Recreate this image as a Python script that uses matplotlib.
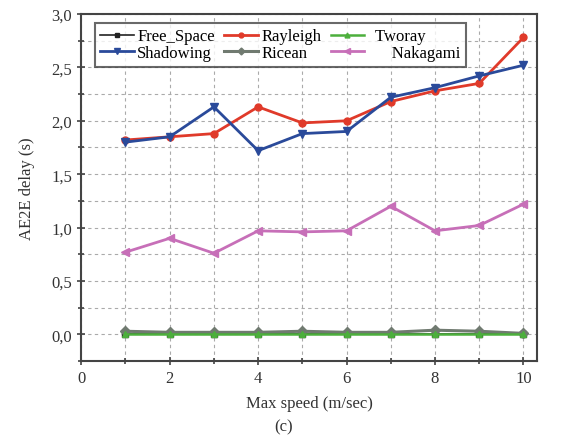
import matplotlib
matplotlib.use("Agg")
import matplotlib.pyplot as plt
from matplotlib.ticker import MultipleLocator, FuncFormatter

plt.rcParams['font.family'] = ['Liberation Serif', 'DejaVu Serif']

speed = [1, 2, 3, 4, 5, 6, 7, 8, 9, 10]
free_space = [0.00, 0.00, 0.00, 0.00, 0.00, 0.00, 0.00, 0.00, 0.00, 0.00]
rayleigh = [1.82, 1.85, 1.88, 2.13, 1.98, 2.00, 2.18, 2.28, 2.35, 2.78]
tworay = [0.00, 0.00, 0.00, 0.00, 0.00, 0.00, 0.00, 0.00, 0.00, 0.00]
shadowing = [1.80, 1.85, 2.13, 1.72, 1.88, 1.90, 2.22, 2.31, 2.42, 2.52]
ricean = [0.03, 0.02, 0.02, 0.02, 0.03, 0.02, 0.02, 0.04, 0.03, 0.01]
nakagami = [0.77, 0.90, 0.76, 0.97, 0.96, 0.97, 1.20, 0.97, 1.02, 1.22]

fig = plt.figure(figsize=(5.68, 4.39), dpi=100)
ax = fig.add_axes([0.143, 0.175, 0.802, 0.791])

ax.plot(speed, ricean, color='#707a70', marker='D', ms=5, lw=2.2, label='Ricean', zorder=3)
ax.plot(speed, tworay, color='#4caf3c', marker='^', ms=5, lw=1.8, label='Tworay', zorder=4)
ax.plot(speed, free_space, color='#222222', marker='s', ms=4, lw=1.2, label='Free_Space', zorder=2)
ax.plot(speed, nakagami, color='#c76fb8', marker='<', ms=6, lw=2.0, label='Nakagami', zorder=3)
ax.plot(speed, rayleigh, color='#e03a2a', marker='o', ms=5, lw=2.0, label='Rayleigh', zorder=3)
ax.plot(speed, shadowing, color='#2a4a9a', marker='v', ms=6, lw=2.0, label='Shadowing', zorder=3)

ax.set_xlim(0, 10.3)
ax.set_ylim(-0.25, 3.0)
ax.xaxis.set_major_locator(MultipleLocator(2))
ax.xaxis.set_minor_locator(MultipleLocator(1))
ax.yaxis.set_major_locator(MultipleLocator(0.5))
ax.yaxis.set_minor_locator(MultipleLocator(0.25))
ax.yaxis.set_major_formatter(FuncFormatter(lambda v, p: f"{v:.1f}".replace('.', ',')))
ax.tick_params(which='both', direction='inout', length=6, width=1.2, colors='#444444',
               labelsize=12, labelcolor='#333333')
ax.tick_params(which='minor', length=4)
ax.grid(which='both', color='#aaaaaa', linestyle=(0, (3, 3)), linewidth=0.8)
for s in ax.spines.values():
    s.set_color('#444444')
    s.set_linewidth(1.5)

ax.set_xlabel('Max speed (m/sec)', fontsize=12, color='#333333', labelpad=6)
ax.set_ylabel('AE2E delay (s)', fontsize=12, color='#333333', labelpad=12)
fig.text(0.5, 0.018, '(c)', ha='center', fontsize=12, color='#333333')

handles, labels = ax.get_legend_handles_labels()
order = ['Free_Space', 'Shadowing', 'Rayleigh', 'Ricean', 'Tworay', 'Nakagami']
names = {'Free_Space': 'Free_Space', 'Shadowing': 'Shadowing', 'Rayleigh': 'Rayleigh',
         'Ricean': 'Ricean', 'Tworay': '  Tworay', 'Nakagami': '      Nakagami'}
hl = dict(zip(labels, handles))
leg = ax.legend([hl[k] for k in order], [names[k] for k in order], ncol=3,
                loc='upper left', mode='expand',
                bbox_to_anchor=(0.011, 0.5, 0.853, 0.499), fontsize=12, frameon=True,
                fancybox=False, handlelength=2.0, handletextpad=0.2, columnspacing=0.2,
                labelspacing=0.05, borderpad=0.35, markerscale=0.7)
leg.get_frame().set_edgecolor('#444444')
leg.get_frame().set_linewidth(1.5)

fig.savefig('out.png', dpi=100)
